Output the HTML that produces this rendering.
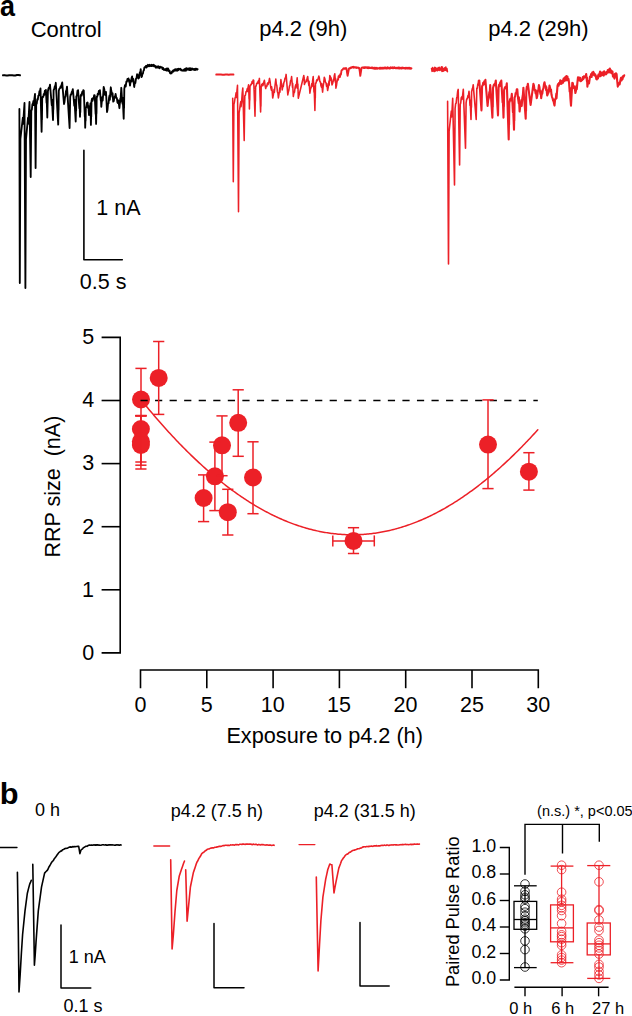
<!DOCTYPE html>
<html><head><meta charset="utf-8"><style>
html,body{margin:0;padding:0;background:#fff;width:632px;height:1016px;overflow:hidden;}
svg{display:block;}
text{font-family:"Liberation Sans",sans-serif;}
</style></head><body>
<svg width="632" height="1016" viewBox="0 0 632 1016">
<rect width="632" height="1016" fill="#fff"/>
<text transform="translate(0.85,16.20) scale(0.91,1)" x="-0.87" y="0" font-size="29.6" font-weight="bold" fill="#000">a</text>
<text x="30.68" y="37.30" font-size="22" font-weight="normal" fill="#000" >Control</text>
<text x="259.28" y="35.60" font-size="22" font-weight="normal" fill="#000" >p4.2 (9h)</text>
<text x="488.28" y="35.60" font-size="22" font-weight="normal" fill="#000" >p4.2 (29h)</text>
<polyline points="3.00,75.30 4.55,75.12 6.09,75.47 7.64,75.43 9.18,75.18 10.73,75.30 12.27,75.27 13.82,75.38 15.36,75.44 16.91,75.10 18.45,75.06 20.00,75.30" fill="none" stroke="#000" stroke-width="2.0" stroke-linejoin="round" stroke-linecap="round" />
<polyline points="19.40,109.00 19.80,283.00 20.40,139.00 22.82,117.76 23.11,123.76 24.50,103.00 25.40,288.00 26.00,139.20 28.02,117.74 28.26,123.74 29.50,102.00 30.70,177.00 31.30,110.60 31.83,109.75 32.37,104.27 32.90,103.80 33.44,101.01 33.70,105.06 34.35,99.10 35.00,94.00 35.60,168.00 36.20,104.32 36.74,103.72 37.28,99.08 37.81,99.53 38.35,95.65 38.89,95.47 39.42,91.28 39.96,91.45 40.50,88.40 41.60,131.80 41.92,114.22 41.96,119.69 42.20,98.36 42.73,96.64 43.26,96.84 43.79,93.95 44.31,94.83 44.84,90.80 45.37,92.73 45.90,90.00 46.54,102.66 46.64,96.66 47.30,117.50 47.90,91.26 48.53,88.26 49.17,87.30 49.32,88.44 50.00,84.70 51.75,105.25 51.96,99.64 53.00,120.00 53.31,104.81 53.35,109.41 53.60,90.24 54.22,89.05 54.83,86.07 54.99,88.13 55.80,82.80 58.20,124.60 58.57,104.00 58.61,110.00 58.80,90.84 59.44,88.59 60.08,88.03 60.72,86.08 60.96,87.70 61.58,84.69 62.20,82.40 64.00,104.00 64.50,102.02 65.00,97.47 65.50,96.11 66.00,90.94 66.50,90.49 67.00,86.60 69.60,128.00 70.20,96.96 70.72,94.37 71.24,94.48 71.76,91.95 72.28,91.49 72.80,89.20 73.54,96.90 74.27,105.59 74.47,99.59 75.70,121.50 76.08,105.44 76.13,110.69 76.30,96.46 76.90,95.35 77.50,90.69 78.10,90.20 78.76,100.55 79.41,108.54 79.54,102.54 80.00,116.80 80.30,106.31 80.34,112.29 80.60,95.92 81.13,94.50 81.67,95.64 82.20,91.97 82.73,93.70 83.27,90.09 83.80,90.70 84.77,116.42 84.87,110.42 85.20,127.70 85.56,115.46 85.61,120.83 85.80,107.54 86.40,107.16 87.00,102.85 87.60,102.50 88.26,108.40 88.36,105.90 89.00,115.00 89.70,110.02 90.40,103.50 90.90,124.90 91.21,112.83 91.25,116.72 91.50,101.30 92.03,98.74 92.57,100.88 93.10,97.82 93.63,98.65 94.17,95.15 94.70,95.40 95.61,113.90 95.71,108.87 96.10,123.90 96.44,108.75 96.48,113.57 96.70,96.94 97.23,96.73 97.77,93.69 98.30,94.52 98.83,90.94 99.37,92.28 99.90,90.20 100.76,100.34 100.85,97.56 101.30,106.80 101.90,100.41 102.51,96.79 102.68,100.58 103.19,94.51 103.70,86.90 104.35,89.50 105.00,95.00 105.50,94.97 106.00,92.00 106.50,101.09 107.00,112.00 107.51,109.73 108.02,103.87 108.53,103.30 109.04,97.79 109.55,95.42 109.82,99.91 110.80,87.30 111.33,91.07 111.86,92.89 112.39,96.79 112.56,93.27 113.20,101.60 113.76,101.05 114.32,97.53 114.87,96.30 115.04,97.68 115.60,94.00 116.21,97.77 116.82,97.90 117.43,102.34 118.04,103.13 118.31,100.30 118.86,103.53 119.40,108.20 120.29,98.65 120.42,101.98 121.30,87.80 121.91,97.24 122.53,103.58 122.69,97.58 123.70,118.70 124.04,101.89 124.08,107.89 124.30,88.86 124.92,85.42 125.55,84.43 125.69,86.52 126.40,81.40 126.93,81.64 127.45,78.97 127.97,80.38 128.50,78.50 129.23,81.97 129.34,79.94 130.00,85.60 130.53,82.23 131.05,81.72 131.57,78.11 132.10,76.40 132.62,80.01 133.14,81.67 133.29,78.91 134.20,87.00 134.78,82.92 135.36,83.00 135.94,78.90 136.52,78.13 137.10,74.20 137.80,75.10 138.50,78.50 139.00,77.85 139.51,73.67 140.01,72.11 140.17,74.73 140.70,69.20 141.40,77.00 141.90,76.54 142.40,73.88 142.90,73.62 143.40,70.84 143.90,70.39 144.40,67.43 144.90,67.10 145.41,67.24 145.93,65.96 146.44,67.56 146.96,65.82 147.47,66.54 147.99,64.81 148.50,65.70 149.04,66.35 149.57,64.77 150.11,65.97 150.65,65.11 151.19,66.11 151.73,64.81 152.26,66.02 152.80,65.70 153.33,64.72 153.85,66.31 154.38,65.28 154.90,66.66 155.43,66.09 155.95,67.77 156.47,66.53 157.00,67.10 157.54,67.52 158.07,66.20 158.61,67.71 159.15,66.82 159.69,68.29 160.23,66.71 160.76,67.37 161.30,67.10 161.88,67.11 162.46,69.09 163.04,67.89 163.62,69.77 164.20,70.00 164.72,69.34 165.25,70.07 165.78,69.03 166.30,70.58 166.82,68.55 167.35,70.51 167.88,68.33 168.40,69.20 168.95,71.34 169.50,70.43 170.05,73.12 170.60,73.50 171.10,72.54 171.60,73.37 172.10,71.46 172.60,71.84 173.10,70.33 173.60,71.58 174.10,70.00 174.62,69.56 175.14,70.66 175.65,69.16 176.17,70.44 176.69,69.26 177.21,70.72 177.73,69.00 178.25,70.24 178.76,68.70 179.28,69.53 179.80,69.20 180.38,68.72 180.96,70.17 181.54,69.81 182.12,70.67 182.70,70.70 183.24,70.12 183.77,70.66 184.31,69.29 184.85,70.68 185.39,68.58 185.93,70.71 186.46,68.19 187.00,69.20 187.51,69.66 188.02,68.53 188.53,69.68 189.04,68.39 189.55,70.04 190.05,68.19 190.56,70.12 191.07,68.71 191.58,69.85 192.09,68.45 192.60,69.20 193.10,69.44 193.60,68.93 194.10,69.83 194.60,68.85 195.10,70.13 195.60,68.73 196.10,69.54 196.60,68.79 197.10,69.66 197.60,69.20" fill="none" stroke="#000" stroke-width="1.85" stroke-linejoin="round" stroke-linecap="round" />
<polyline points="83.90,150.20 83.90,259.70 122.30,259.70" fill="none" stroke="#000" stroke-width="1.6" stroke-linejoin="round" stroke-linecap="round" stroke-linecap="butt" stroke-linejoin="miter"/>
<text x="96.36" y="214.80" font-size="21.5" font-weight="normal" fill="#000" >1 nA</text>
<text x="79.86" y="288.80" font-size="21.5" font-weight="normal" fill="#000" >0.5 s</text>
<polyline points="216.30,74.60 217.85,74.50 219.41,74.62 220.96,74.55 222.52,74.64 224.07,74.65 225.63,74.43 227.18,74.41 228.74,74.73 230.29,74.50 231.85,74.49 233.40,74.60" fill="none" stroke="#EC2027" stroke-width="2.0" stroke-linejoin="round" stroke-linecap="round" />
<polyline points="232.70,98.30 233.30,181.70 233.90,104.58 234.45,102.16 235.01,98.26 235.56,96.42 236.11,92.73 236.36,97.55 236.93,90.97 237.50,85.30 238.50,211.80 239.10,112.76 239.66,109.38 240.22,104.56 240.78,101.55 241.03,106.66 241.62,101.75 242.21,93.04 242.80,88.00 244.20,140.60 244.80,95.88 245.42,95.19 246.04,91.70 246.66,91.29 247.28,88.58 247.55,91.42 248.07,87.47 248.60,84.70 249.07,99.03 249.13,93.03 249.40,109.00 249.74,96.14 249.78,100.14 250.00,86.04 250.53,85.69 251.06,84.00 251.59,84.10 252.11,81.44 252.64,83.15 253.17,79.94 253.70,80.30 255.00,116.30 255.39,96.45 255.43,101.34 255.60,85.98 256.11,86.14 256.62,83.46 257.12,83.57 257.63,81.93 257.90,83.53 258.40,80.84 258.90,81.21 259.40,78.40 260.60,111.90 260.88,100.14 260.92,106.14 261.20,86.62 261.70,84.39 262.21,85.89 262.71,83.63 262.94,85.52 263.67,82.53 264.40,80.30 265.05,85.36 265.70,88.50 266.23,86.06 266.76,86.54 267.28,83.81 267.81,82.89 268.08,84.61 268.79,82.31 269.50,78.40 270.15,81.97 270.79,87.64 271.44,90.27 271.66,86.84 272.18,91.17 272.70,98.00 273.42,94.50 274.13,89.21 274.35,92.54 275.08,85.16 275.80,79.00 276.32,84.10 276.84,85.68 277.36,91.67 277.88,92.97 278.40,98.00 279.09,93.75 279.79,87.79 279.96,92.20 280.90,79.60 281.61,85.23 281.70,83.63 282.20,89.90 282.76,86.94 283.31,86.42 283.87,82.49 284.43,81.50 284.99,78.21 285.54,77.80 286.10,74.40 287.80,94.90 288.34,91.96 288.89,90.00 289.43,86.08 289.97,85.04 290.51,80.95 291.06,80.02 291.60,76.60 292.52,87.33 292.64,83.26 293.30,96.50 293.90,92.93 294.51,92.08 295.11,87.28 295.71,84.87 295.98,88.01 296.59,83.60 297.20,77.70 297.79,88.79 297.87,84.14 298.30,98.20 303.80,75.50 304.07,79.57 304.12,77.13 304.40,84.40 305.04,82.39 305.68,82.37 306.31,79.88 306.54,81.31 307.12,78.36 307.70,76.60 308.30,81.82 308.90,85.68 309.06,81.27 309.90,93.20 310.55,88.83 311.19,87.34 311.84,83.45 312.07,86.38 312.63,80.58 313.20,76.60 313.98,92.12 314.10,86.12 314.90,110.40 315.27,93.68 315.31,98.01 315.50,82.96 316.05,83.10 316.60,80.27 317.16,79.51 317.39,80.83 318.09,78.82 318.80,76.10 319.32,77.77 319.85,81.65 320.37,81.75 320.90,85.47 321.42,87.13 321.69,83.58 322.60,92.10 323.17,86.48 323.73,82.65 324.30,77.20 324.86,78.67 325.42,82.06 325.99,82.93 326.55,86.26 326.78,83.54 327.60,90.50 328.30,87.00 329.00,80.94 329.16,85.25 329.80,75.50 330.37,76.61 330.94,80.41 331.09,77.89 332.00,85.00 332.71,83.24 333.43,79.28 333.63,80.98 334.21,76.03 334.80,73.80 335.47,82.51 335.54,78.22 335.90,88.20 336.47,85.57 337.03,81.73 337.60,79.40 338.10,79.69" fill="none" stroke="#EC2027" stroke-width="1.55" stroke-linejoin="round" stroke-linecap="round" />
<polyline points="338.10,79.69 338.60,76.11 339.10,76.93 339.61,75.11 339.91,76.98 340.44,73.90 340.96,74.46 341.48,70.55 342.00,70.00 342.60,69.69 343.20,68.65 343.80,68.30 344.34,68.69 344.88,68.23 345.42,68.78 345.96,67.96 346.50,68.60 347.05,72.53 347.60,75.90 348.30,72.08 349.00,68.50 349.53,68.43 350.06,67.87 350.59,68.35 351.11,67.35 351.64,67.69 352.17,67.05 352.70,67.00 353.20,67.66 353.70,66.82 354.20,67.43 354.70,67.13 355.20,67.50 355.70,67.22 356.20,67.93 356.70,67.37 357.20,67.77 357.70,67.70 358.20,67.44 358.70,68.14 359.20,68.00 359.75,71.35 360.30,75.90 360.90,72.13 361.50,68.00 362.15,67.33 362.80,67.40 363.31,67.92 363.81,67.14 364.32,68.08 364.83,67.17 365.33,67.79 365.84,67.26 366.35,67.75 366.85,67.32 367.36,67.91 367.87,67.15 368.37,68.25 368.88,67.40 369.39,67.93 369.89,67.58 370.40,68.09 370.91,67.66 371.41,68.14 371.92,67.40 372.43,68.16 372.93,67.86 373.44,68.60 373.95,67.67 374.45,68.69 374.96,67.81 375.47,68.70 375.97,67.75 376.48,68.71 376.99,67.76 377.49,68.63 378.00,68.30 378.51,68.12 379.01,68.48 379.52,67.70 380.03,68.77 380.53,67.64 381.04,68.46 381.55,67.72 382.05,68.64 382.56,67.69 383.07,68.61 383.57,67.71 384.08,68.49 384.59,67.59 385.09,68.27 385.60,67.44 386.11,68.56 386.61,67.80 387.12,68.53 387.63,67.34 388.13,68.34 388.64,67.74 389.15,68.41 389.65,67.66 390.16,68.40 390.67,67.36 391.17,67.93 391.68,67.56 392.19,68.16 392.69,67.33 393.20,67.70 393.71,68.19 394.22,67.17 394.72,67.97 395.23,67.65 395.74,68.35 396.25,67.67 396.76,68.36 397.27,67.66 397.77,68.36 398.28,67.37 398.79,68.42 399.30,67.52 399.81,68.46 400.32,67.72 400.82,68.39 401.33,67.69 401.84,68.53 402.35,67.51 402.86,68.36 403.37,67.66 403.88,68.18 404.38,67.93 404.89,68.49 405.40,67.75 405.91,68.65 406.42,67.72 406.93,68.34 407.43,67.87 407.94,68.67 408.45,67.83 408.96,68.34 409.47,67.71 409.98,68.77 410.48,68.11 410.99,68.66 411.50,68.30" fill="none" stroke="#EC2027" stroke-width="1.9" stroke-linejoin="round" stroke-linecap="round" />
<polyline points="431.50,68.47 432.05,71.38 432.60,67.53 433.15,70.96 433.70,68.37 434.25,71.59 434.80,67.18 435.35,71.02 435.90,67.79 436.45,70.47 437.00,68.79 437.55,70.74 438.10,67.63 438.65,70.14 439.20,67.21 439.75,70.46 440.30,68.33 440.85,70.08 441.40,66.80 441.95,71.48 442.50,67.05 443.05,71.23 443.60,68.73 444.15,70.66 444.70,67.80 445.25,70.23 445.80,66.90 446.35,70.74 446.90,68.49 447.45,71.64" fill="none" stroke="#EC2027" stroke-width="1.5" stroke-linejoin="round" stroke-linecap="round" />
<polyline points="447.60,101.40 448.50,264.00 449.10,131.52 451.34,110.94 451.59,116.94 452.14,109.17 452.70,98.40 454.50,185.00 455.10,108.52 455.62,103.79 456.13,103.21 456.65,98.22 457.17,96.13 457.68,91.27 458.20,89.40 459.60,165.00 460.20,104.52 460.72,103.00 461.25,97.95 461.77,96.84 461.99,99.45 462.65,95.32 463.30,89.40 465.50,148.30 466.10,102.78 466.71,98.91 467.32,98.73 467.94,95.57 468.14,97.50 469.00,91.40 469.50,96.96 470.01,105.55 470.15,100.09 471.00,119.50 471.40,101.25 471.44,107.25 471.60,91.82 472.43,88.23 472.54,89.42 473.20,84.90 476.20,119.50 476.80,88.30 477.30,88.15 477.80,84.22 478.30,84.76" fill="none" stroke="#EC2027" stroke-width="1.6" stroke-linejoin="round" stroke-linecap="round" />
<polyline points="478.30,84.76 478.80,80.72 479.30,80.50 481.50,110.40 482.10,86.00 482.65,85.62 483.20,82.81 483.75,84.47 484.30,81.19 484.85,82.43 485.40,79.90 487.60,105.90 488.17,99.94 488.75,98.25 489.32,92.05 489.50,96.72 490.20,85.00 492.40,117.60 492.73,101.06 492.78,107.06 493.00,87.92 493.74,85.12 494.48,84.00 494.68,85.24 495.24,83.37 495.80,80.50 498.00,115.40 498.60,87.48 499.14,84.57 499.68,86.21 500.22,82.29 500.76,82.39 501.30,80.50 502.59,102.34 502.75,96.34 503.50,117.60 503.87,100.61 503.91,106.55 504.10,90.16 504.78,87.80 505.45,86.73 505.64,88.29 506.22,87.07 506.80,83.30 508.70,139.50 509.04,118.85 509.08,124.85 509.30,102.94 509.90,99.95 510.51,98.53 510.68,100.57 511.24,98.92 511.80,93.80 512.36,101.75 512.92,112.12 513.07,106.12 514.00,129.80 514.28,114.66 514.32,120.66 514.60,97.48 515.14,96.51 515.68,92.94 516.22,93.51 516.76,89.31 517.30,89.40 518.02,98.03 518.75,103.32 518.91,97.32 519.60,111.50 520.21,106.55 520.83,105.09 521.44,99.95 521.71,105.95 522.27,98.50 522.84,95.30 523.40,87.70 525.70,118.70 525.99,105.02 526.04,110.94 526.30,90.78 526.83,86.69 527.37,86.53 527.90,83.80 530.60,104.90 533.40,83.80 533.95,85.31 534.49,89.80 535.04,90.17 535.59,93.35 535.82,90.38 536.70,98.20 537.25,96.11 537.80,91.11 538.35,89.93 538.90,85.00 539.43,86.93 539.96,91.63 540.49,94.15 540.65,90.97 541.20,98.20 541.75,94.22 542.30,93.68 542.85,89.56 543.40,88.59 543.95,84.31 544.50,82.20 545.04,85.54 545.59,85.95 546.13,90.24 546.32,87.08 547.20,95.50 547.82,94.17 548.44,90.10 548.60,92.69 549.50,85.50 550.15,88.08 550.81,91.42 550.98,89.45 551.49,94.60 552.00,96.80 552.60,98.52 553.20,101.01 553.37,99.39 553.94,103.33 554.50,105.60 555.11,99.35 555.72,99.21 556.33,93.50 556.54,98.13 557.50,85.80 558.05,84.12 558.60,85.78 559.15,82.73 559.71,84.07 560.26,80.34 560.81,82.12 561.31,83.85 561.88,83.42 562.44,80.54 563.01,82.74 563.57,78.57 564.14,81.17 564.70,77.80 565.24,77.02 565.79,80.50 566.33,76.12 566.87,80.25 567.41,76.47 567.96,80.17 568.50,79.00 569.09,83.22 569.68,91.59 569.86,87.58 570.43,98.60 571.00,105.60 572.30,82.80 572.84,83.11 573.39,87.76 573.93,88.16 574.15,86.22 574.77,87.77 575.40,93.00 576.01,90.56 576.62,85.58 576.80,89.07 577.40,82.49 578.00,77.20 578.52,79.75 579.03,77.48 579.55,80.52 580.07,77.75 580.58,81.18 581.10,81.00 581.66,79.71 582.22,80.18 582.78,77.08 583.34,79.10 583.90,76.19 584.46,76.39 584.82,77.45 585.51,77.07 586.20,74.00 586.89,81.23 586.97,77.51 587.40,86.60 588.14,81.47 588.88,80.86 589.06,83.39 590.00,76.50 590.54,76.93 591.09,74.15 591.63,77.04 592.17,72.67 592.71,74.78 593.26,71.85 593.80,72.70 594.37,75.54 594.94,75.58 595.12,74.17 595.71,75.83 596.30,79.00 596.83,79.37 597.37,76.27 597.90,78.53 598.43,74.57 598.97,76.58 599.50,74.00 600.02,71.60 600.54,76.14 601.05,72.63 601.57,75.42 602.09,72.63 602.61,74.92 603.13,72.20 603.65,75.57 604.16,71.23 604.68,74.49 605.20,73.40 605.72,72.62 606.24,74.16 606.75,71.94 607.27,72.77 607.79,69.98 608.31,72.35 608.83,69.50 609.35,72.25 609.86,68.50 610.38,72.61 610.90,70.20 611.42,70.77 611.93,73.38 612.45,71.40 612.97,76.52 613.48,74.74 614.00,77.20 614.52,78.54 615.04,73.88 615.56,76.70 616.08,73.26 616.60,74.00 617.20,80.97 617.80,86.60 618.34,84.12 618.88,84.75 619.41,82.69 619.60,84.44 620.40,80.30 620.94,77.90 621.49,80.52 622.03,77.40 622.57,79.13 623.11,76.06 623.66,76.70 624.20,75.30" fill="none" stroke="#EC2027" stroke-width="2.1" stroke-linejoin="round" stroke-linecap="round" />
<path d="M101.6,337.40 H120.2 V652.90 H101.6" fill="none" stroke="#000" stroke-width="1.6"/>
<line x1="101.60" y1="589.80" x2="120.20" y2="589.80" stroke="#000" stroke-width="1.6" />
<line x1="101.60" y1="526.70" x2="120.20" y2="526.70" stroke="#000" stroke-width="1.6" />
<line x1="101.60" y1="463.60" x2="120.20" y2="463.60" stroke="#000" stroke-width="1.6" />
<line x1="101.60" y1="400.50" x2="120.20" y2="400.50" stroke="#000" stroke-width="1.6" />
<text x="82.22" y="659.70" font-size="21.5" font-weight="normal" fill="#000" >0</text>
<text x="81.93" y="596.60" font-size="21.5" font-weight="normal" fill="#000" >1</text>
<text x="82.22" y="533.50" font-size="21.5" font-weight="normal" fill="#000" >2</text>
<text x="82.28" y="470.40" font-size="21.5" font-weight="normal" fill="#000" >3</text>
<text x="82.29" y="407.30" font-size="21.5" font-weight="normal" fill="#000" >4</text>
<text x="82.24" y="344.20" font-size="21.5" font-weight="normal" fill="#000" >5</text>
<text transform="rotate(-90)" x="-557.46" y="59.60" font-size="21.5" fill="#000" style="white-space:pre">RRP size  (nA)</text>
<path d="M140.50,688.2 V670 H538.30 V688.2" fill="none" stroke="#000" stroke-width="1.6"/>
<line x1="206.80" y1="670.00" x2="206.80" y2="688.20" stroke="#000" stroke-width="1.6" />
<line x1="273.10" y1="670.00" x2="273.10" y2="688.20" stroke="#000" stroke-width="1.6" />
<line x1="339.40" y1="670.00" x2="339.40" y2="688.20" stroke="#000" stroke-width="1.6" />
<line x1="405.70" y1="670.00" x2="405.70" y2="688.20" stroke="#000" stroke-width="1.6" />
<line x1="472.00" y1="670.00" x2="472.00" y2="688.20" stroke="#000" stroke-width="1.6" />
<text x="134.52" y="712.00" font-size="21.5" font-weight="normal" fill="#000" >0</text>
<text x="200.84" y="712.00" font-size="21.5" font-weight="normal" fill="#000" >5</text>
<text x="260.74" y="712.00" font-size="21.5" font-weight="normal" fill="#000" >10</text>
<text x="327.08" y="712.00" font-size="21.5" font-weight="normal" fill="#000" >15</text>
<text x="393.62" y="712.00" font-size="21.5" font-weight="normal" fill="#000" >20</text>
<text x="459.95" y="712.00" font-size="21.5" font-weight="normal" fill="#000" >25</text>
<text x="526.35" y="712.00" font-size="21.5" font-weight="normal" fill="#000" >30</text>
<text x="226.42" y="743.40" font-size="21.7" font-weight="normal" fill="#000" >Exposure to p4.2 (h)</text>
<polyline points="141.00,399.75 142.32,401.38 143.65,403.01 144.97,404.63 146.29,406.23 147.61,407.83 148.94,409.42 150.26,411.00 151.58,412.57 152.90,414.13 154.23,415.69 155.55,417.23 156.87,418.76 158.19,420.29 159.52,421.80 160.84,423.31 162.16,424.81 163.49,426.29 164.81,427.77 166.13,429.24 167.45,430.70 168.78,432.15 170.10,433.59 171.42,435.02 172.74,436.44 174.07,437.86 175.39,439.26 176.71,440.65 178.03,442.03 179.36,443.41 180.68,444.77 182.00,446.13 183.33,447.47 184.65,448.81 185.97,450.13 187.29,451.45 188.62,452.75 189.94,454.05 191.26,455.34 192.58,456.61 193.91,457.88 195.23,459.14 196.55,460.38 197.87,461.62 199.20,462.85 200.52,464.07 201.84,465.27 203.17,466.47 204.49,467.66 205.81,468.84 207.13,470.01 208.46,471.16 209.78,472.31 211.10,473.45 212.42,474.58 213.75,475.69 215.07,476.80 216.39,477.90 217.71,478.99 219.04,480.07 220.36,481.13 221.68,482.19 223.01,483.24 224.33,484.27 225.65,485.30 226.97,486.32 228.30,487.32 229.62,488.32 230.94,489.30 232.26,490.28 233.59,491.25 234.91,492.20 236.23,493.14 237.55,494.08 238.88,495.00 240.20,495.92 241.52,496.82 242.85,497.71 244.17,498.60 245.49,499.47 246.81,500.33 248.14,501.18 249.46,502.02 250.78,502.85 252.10,503.67 253.43,504.48 254.75,505.28 256.07,506.07 257.39,506.85 258.72,507.62 260.04,508.37 261.36,509.12 262.69,509.86 264.01,510.58 265.33,511.30 266.65,512.00 267.98,512.69 269.30,513.38 270.62,514.05 271.94,514.71 273.27,515.36 274.59,516.00 275.91,516.63 277.23,517.25 278.56,517.86 279.88,518.46 281.20,519.05 282.53,519.63 283.85,520.19 285.17,520.75 286.49,521.29 287.82,521.83 289.14,522.35 290.46,522.86 291.78,523.37 293.11,523.86 294.43,524.34 295.75,524.81 297.07,525.27 298.40,525.71 299.72,526.15 301.04,526.58 302.37,526.99 303.69,527.40 305.01,527.79 306.33,528.18 307.66,528.55 308.98,528.91 310.30,529.26 311.62,529.60 312.95,529.93 314.27,530.25 315.59,530.56 316.91,530.86 318.24,531.14 319.56,531.42 320.88,531.68 322.21,531.94 323.53,532.18 324.85,532.41 326.17,532.63 327.50,532.84 328.82,533.04 330.14,533.23 331.46,533.41 332.79,533.57 334.11,533.73 335.43,533.87 336.75,534.01 338.08,534.13 339.40,534.24 340.72,534.34 342.05,534.44 343.37,534.51 344.69,534.58 346.01,534.64 347.34,534.69 348.66,534.72 349.98,534.75 351.30,534.76 352.63,534.77 353.95,534.76 355.27,534.74 356.59,534.71 357.92,534.67 359.24,534.62 360.56,534.56 361.89,534.48 363.21,534.40 364.53,534.31 365.85,534.20 367.18,534.08 368.50,533.96 369.82,533.82 371.14,533.67 372.47,533.51 373.79,533.34 375.11,533.15 376.43,532.96 377.76,532.76 379.08,532.54 380.40,532.32 381.73,532.08 383.05,531.83 384.37,531.57 385.69,531.31 387.02,531.03 388.34,530.74 389.66,530.43 390.98,530.12 392.31,529.80 393.63,529.46 394.95,529.12 396.27,528.76 397.60,528.40 398.92,528.02 400.24,527.63 401.57,527.23 402.89,526.82 404.21,526.40 405.53,525.97 406.86,525.53 408.18,525.07 409.50,524.61 410.82,524.13 412.15,523.65 413.47,523.15 414.79,522.64 416.11,522.13 417.44,521.60 418.76,521.06 420.08,520.51 421.41,519.95 422.73,519.38 424.05,518.79 425.37,518.20 426.70,517.60 428.02,516.98 429.34,516.36 430.66,515.72 431.99,515.08 433.31,514.42 434.63,513.75 435.95,513.07 437.28,512.38 438.60,511.68 439.92,510.97 441.25,510.25 442.57,509.52 443.89,508.78 445.21,508.03 446.54,507.26 447.86,506.49 449.18,505.70 450.50,504.91 451.83,504.10 453.15,503.29 454.47,502.46 455.79,501.62 457.12,500.78 458.44,499.92 459.76,499.05 461.09,498.17 462.41,497.28 463.73,496.38 465.05,495.47 466.38,494.55 467.70,493.62 469.02,492.68 470.34,491.73 471.67,490.77 472.99,489.79 474.31,488.81 475.63,487.82 476.96,486.81 478.28,485.80 479.60,484.78 480.93,483.74 482.25,482.70 483.57,481.64 484.89,480.58 486.22,479.50 487.54,478.42 488.86,477.32 490.18,476.22 491.51,475.10 492.83,473.97 494.15,472.84 495.47,471.69 496.80,470.54 498.12,469.37 499.44,468.19 500.77,467.01 502.09,465.81 503.41,464.60 504.73,463.39 506.06,462.16 507.38,460.92 508.70,459.68 510.02,458.42 511.35,457.15 512.67,455.88 513.99,454.59 515.31,453.30 516.64,451.99 517.96,450.67 519.28,449.35 520.61,448.01 521.93,446.67 523.25,445.31 524.57,443.95 525.90,442.57 527.22,441.19 528.54,439.80 529.86,438.39 531.19,436.98 532.51,435.56 533.83,434.12 535.15,432.68 536.48,431.23 537.80,429.77" fill="none" stroke="#EC2027" stroke-width="1.5" stroke-linejoin="round" stroke-linecap="round" />
<circle cx="141.0" cy="399.5" r="9" fill="#EC2027"/>
<circle cx="158.7" cy="377.9" r="9" fill="#EC2027"/>
<circle cx="140.9" cy="429.0" r="9" fill="#EC2027"/>
<circle cx="140.9" cy="441.5" r="9" fill="#EC2027"/>
<circle cx="140.9" cy="445.0" r="9" fill="#EC2027"/>
<circle cx="238.2" cy="422.8" r="9" fill="#EC2027"/>
<circle cx="222.0" cy="445.3" r="9" fill="#EC2027"/>
<circle cx="214.9" cy="476.3" r="9" fill="#EC2027"/>
<circle cx="203.6" cy="498.0" r="9" fill="#EC2027"/>
<circle cx="227.8" cy="512.2" r="9" fill="#EC2027"/>
<circle cx="253.0" cy="477.5" r="9" fill="#EC2027"/>
<circle cx="353.5" cy="540.9" r="9" fill="#EC2027"/>
<circle cx="488.0" cy="444.6" r="9" fill="#EC2027"/>
<circle cx="528.9" cy="471.7" r="9" fill="#EC2027"/>
<line x1="140.50" y1="400.50" x2="537.80" y2="400.50" stroke="#000" stroke-width="1.6" stroke-dasharray="7.2 7.35"/>
<line x1="141.00" y1="368.40" x2="141.00" y2="391.50" stroke="#EC2027" stroke-width="1.5" />
<line x1="141.00" y1="407.50" x2="141.00" y2="415.50" stroke="#EC2027" stroke-width="1.5" />
<line x1="135.40" y1="368.40" x2="146.60" y2="368.40" stroke="#EC2027" stroke-width="1.5" />
<line x1="135.40" y1="415.50" x2="146.60" y2="415.50" stroke="#EC2027" stroke-width="1.5" />
<line x1="158.70" y1="341.50" x2="158.70" y2="369.90" stroke="#EC2027" stroke-width="1.5" />
<line x1="158.70" y1="385.90" x2="158.70" y2="414.40" stroke="#EC2027" stroke-width="1.5" />
<line x1="153.10" y1="341.50" x2="164.30" y2="341.50" stroke="#EC2027" stroke-width="1.5" />
<line x1="153.10" y1="414.40" x2="164.30" y2="414.40" stroke="#EC2027" stroke-width="1.5" />
<line x1="140.90" y1="415.80" x2="140.90" y2="421.00" stroke="#EC2027" stroke-width="1.5" />
<line x1="140.90" y1="437.00" x2="140.90" y2="462.00" stroke="#EC2027" stroke-width="1.5" />
<line x1="135.30" y1="415.80" x2="146.50" y2="415.80" stroke="#EC2027" stroke-width="1.5" />
<line x1="135.30" y1="462.00" x2="146.50" y2="462.00" stroke="#EC2027" stroke-width="1.5" />
<line x1="140.90" y1="415.80" x2="140.90" y2="433.50" stroke="#EC2027" stroke-width="1.5" />
<line x1="140.90" y1="449.50" x2="140.90" y2="465.20" stroke="#EC2027" stroke-width="1.5" />
<line x1="135.30" y1="415.80" x2="146.50" y2="415.80" stroke="#EC2027" stroke-width="1.5" />
<line x1="135.30" y1="465.20" x2="146.50" y2="465.20" stroke="#EC2027" stroke-width="1.5" />
<line x1="140.90" y1="415.80" x2="140.90" y2="437.00" stroke="#EC2027" stroke-width="1.5" />
<line x1="140.90" y1="453.00" x2="140.90" y2="469.00" stroke="#EC2027" stroke-width="1.5" />
<line x1="135.30" y1="415.80" x2="146.50" y2="415.80" stroke="#EC2027" stroke-width="1.5" />
<line x1="135.30" y1="469.00" x2="146.50" y2="469.00" stroke="#EC2027" stroke-width="1.5" />
<line x1="238.20" y1="389.80" x2="238.20" y2="414.80" stroke="#EC2027" stroke-width="1.5" />
<line x1="238.20" y1="430.80" x2="238.20" y2="456.30" stroke="#EC2027" stroke-width="1.5" />
<line x1="232.60" y1="389.80" x2="243.80" y2="389.80" stroke="#EC2027" stroke-width="1.5" />
<line x1="232.60" y1="456.30" x2="243.80" y2="456.30" stroke="#EC2027" stroke-width="1.5" />
<line x1="222.00" y1="415.90" x2="222.00" y2="437.30" stroke="#EC2027" stroke-width="1.5" />
<line x1="222.00" y1="453.30" x2="222.00" y2="475.70" stroke="#EC2027" stroke-width="1.5" />
<line x1="216.40" y1="415.90" x2="227.60" y2="415.90" stroke="#EC2027" stroke-width="1.5" />
<line x1="216.40" y1="475.70" x2="227.60" y2="475.70" stroke="#EC2027" stroke-width="1.5" />
<line x1="214.90" y1="442.10" x2="214.90" y2="468.30" stroke="#EC2027" stroke-width="1.5" />
<line x1="214.90" y1="484.30" x2="214.90" y2="510.60" stroke="#EC2027" stroke-width="1.5" />
<line x1="209.30" y1="442.10" x2="220.50" y2="442.10" stroke="#EC2027" stroke-width="1.5" />
<line x1="209.30" y1="510.60" x2="220.50" y2="510.60" stroke="#EC2027" stroke-width="1.5" />
<line x1="203.60" y1="474.90" x2="203.60" y2="490.00" stroke="#EC2027" stroke-width="1.5" />
<line x1="203.60" y1="506.00" x2="203.60" y2="521.60" stroke="#EC2027" stroke-width="1.5" />
<line x1="198.00" y1="474.90" x2="209.20" y2="474.90" stroke="#EC2027" stroke-width="1.5" />
<line x1="198.00" y1="521.60" x2="209.20" y2="521.60" stroke="#EC2027" stroke-width="1.5" />
<line x1="227.80" y1="489.30" x2="227.80" y2="504.20" stroke="#EC2027" stroke-width="1.5" />
<line x1="227.80" y1="520.20" x2="227.80" y2="535.00" stroke="#EC2027" stroke-width="1.5" />
<line x1="222.20" y1="489.30" x2="233.40" y2="489.30" stroke="#EC2027" stroke-width="1.5" />
<line x1="222.20" y1="535.00" x2="233.40" y2="535.00" stroke="#EC2027" stroke-width="1.5" />
<line x1="253.00" y1="441.80" x2="253.00" y2="469.50" stroke="#EC2027" stroke-width="1.5" />
<line x1="253.00" y1="485.50" x2="253.00" y2="513.70" stroke="#EC2027" stroke-width="1.5" />
<line x1="247.40" y1="441.80" x2="258.60" y2="441.80" stroke="#EC2027" stroke-width="1.5" />
<line x1="247.40" y1="513.70" x2="258.60" y2="513.70" stroke="#EC2027" stroke-width="1.5" />
<line x1="353.50" y1="527.70" x2="353.50" y2="532.90" stroke="#EC2027" stroke-width="1.5" />
<line x1="353.50" y1="548.90" x2="353.50" y2="553.50" stroke="#EC2027" stroke-width="1.5" />
<line x1="347.90" y1="527.70" x2="359.10" y2="527.70" stroke="#EC2027" stroke-width="1.5" />
<line x1="347.90" y1="553.50" x2="359.10" y2="553.50" stroke="#EC2027" stroke-width="1.5" />
<line x1="332.80" y1="540.90" x2="374.30" y2="540.90" stroke="#EC2027" stroke-width="1.5" />
<line x1="332.80" y1="535.40" x2="332.80" y2="546.40" stroke="#EC2027" stroke-width="1.5" />
<line x1="374.30" y1="535.40" x2="374.30" y2="546.40" stroke="#EC2027" stroke-width="1.5" />
<line x1="488.00" y1="399.90" x2="488.00" y2="436.60" stroke="#EC2027" stroke-width="1.5" />
<line x1="488.00" y1="452.60" x2="488.00" y2="488.60" stroke="#EC2027" stroke-width="1.5" />
<line x1="482.40" y1="399.90" x2="493.60" y2="399.90" stroke="#EC2027" stroke-width="1.5" />
<line x1="482.40" y1="488.60" x2="493.60" y2="488.60" stroke="#EC2027" stroke-width="1.5" />
<line x1="528.90" y1="452.70" x2="528.90" y2="463.70" stroke="#EC2027" stroke-width="1.5" />
<line x1="528.90" y1="479.70" x2="528.90" y2="490.10" stroke="#EC2027" stroke-width="1.5" />
<line x1="523.30" y1="452.70" x2="534.50" y2="452.70" stroke="#EC2027" stroke-width="1.5" />
<line x1="523.30" y1="490.10" x2="534.50" y2="490.10" stroke="#EC2027" stroke-width="1.5" />
<text transform="translate(1.70,803.80) scale(1.065,1)" x="-1.91" y="0" font-size="28.9" font-weight="bold" fill="#000">b</text>
<text x="35.00" y="816.30" font-size="18" font-weight="normal" fill="#000" >0 h</text>
<text x="170.84" y="817.30" font-size="18" font-weight="normal" fill="#000" >p4.2 (7.5 h)</text>
<text x="313.74" y="817.30" font-size="18" font-weight="normal" fill="#000" >p4.2 (31.5 h)</text>
<polyline points="0.00,847.50 17.00,847.50" fill="none" stroke="#000" stroke-width="1.3" stroke-linejoin="round" stroke-linecap="round" />
<polyline points="17.40,872.30 18.30,930.00 19.00,992.00 20.20,973.90 21.40,953.00 22.60,934.50 25.00,910.90 27.30,893.50 28.50,888.64 29.70,884.10 30.50,882.43 31.30,880.20" fill="none" stroke="#000" stroke-width="1.6" stroke-linejoin="round" stroke-linecap="round" />
<polyline points="32.80,864.40 33.60,915.00 34.40,965.20 35.20,955.00 36.00,942.40 38.30,910.90 41.50,887.20 44.60,873.10 45.80,871.74 47.00,870.70 47.98,869.20 48.95,866.93 49.92,865.50 50.90,863.60 51.70,862.25 52.50,861.25 53.30,860.60 54.10,859.03 54.90,858.10 55.88,856.81 56.85,855.33 57.82,853.95 58.80,852.60 59.74,851.96 60.68,851.14 61.62,850.88 62.56,849.79 63.50,849.40 64.31,848.95 65.12,848.54 65.94,848.40 66.75,848.19 67.56,848.20 68.38,847.60 69.19,847.16 70.00,847.10 70.87,846.88 71.74,847.23 72.61,846.60 73.48,846.85 74.35,846.63 75.22,846.72 76.09,846.44 76.96,846.57 77.83,846.38 78.70,846.30 79.90,853.60 81.00,850.00 81.87,849.26 82.73,848.57 83.60,847.50 84.46,847.19 85.31,846.57 86.17,846.17 87.03,846.34 87.89,845.71 88.74,845.17 89.60,845.00 90.41,845.27 91.22,845.05 92.02,845.14 92.83,845.23 93.64,844.87 94.45,844.91 95.25,845.23 96.06,844.78 96.87,845.16 97.68,844.76 98.48,845.11 99.29,845.12 100.10,845.27 100.91,845.21 101.72,845.00 102.52,844.82 103.33,844.79 104.14,845.02 104.95,845.01 105.75,844.74 106.56,845.24 107.37,845.00 108.18,845.12 108.98,844.83 109.79,844.85 110.60,844.71 111.41,844.91 112.22,844.86 113.02,844.95 113.83,844.93 114.64,845.20 115.45,845.23 116.25,844.81 117.06,844.94 117.87,844.80 118.68,845.10 119.48,845.28 120.29,844.82 121.10,845.00" fill="none" stroke="#000" stroke-width="1.6" stroke-linejoin="round" stroke-linecap="round" />
<polyline points="61.00,925.00 61.00,988.00 90.80,988.00" fill="none" stroke="#000" stroke-width="1.5" stroke-linejoin="round" stroke-linecap="round" stroke-linecap="butt" stroke-linejoin="miter"/>
<text x="68.83" y="963.30" font-size="18" font-weight="normal" fill="#000" >1 nA</text>
<text x="63.50" y="1011.50" font-size="18" font-weight="normal" fill="#000" >0.1 s</text>
<polyline points="153.80,846.00 169.70,846.00" fill="none" stroke="#EC2027" stroke-width="1.3" stroke-linejoin="round" stroke-linecap="round" />
<polyline points="170.70,859.80 171.40,905.00 172.10,949.00 173.30,935.40 175.00,911.80 176.80,890.50 179.20,876.30 180.35,872.78 181.50,869.30 182.50,866.46 183.50,863.55 184.50,861.00" fill="none" stroke="#EC2027" stroke-width="1.6" stroke-linejoin="round" stroke-linecap="round" />
<polyline points="185.70,869.80 186.40,895.00 187.10,921.20 188.60,905.90 190.40,887.00 193.30,872.80 194.20,870.13 195.10,867.42 196.00,864.63 196.90,862.20 197.84,860.76 198.78,858.58 199.72,857.22 200.66,855.80 201.60,853.90 202.44,852.98 203.29,852.59 204.13,851.96 204.97,850.94 205.81,850.47 206.66,849.99 207.50,849.20 208.39,848.95 209.28,848.89 210.16,848.32 211.05,848.14 211.94,847.84 212.82,847.85 213.71,847.88 214.60,847.40 215.45,847.29 216.31,847.24 217.16,846.84 218.02,846.89 218.87,846.34 219.73,846.29 220.58,846.36 221.44,846.23 222.29,845.88 223.15,845.52 224.00,845.60 224.81,845.41 225.63,845.32 226.44,845.31 227.26,845.57 228.07,845.15 228.89,845.51 229.70,845.45 230.51,844.90 231.33,845.05 232.14,845.06 232.96,844.72 233.77,844.91 234.59,845.15 235.40,844.62 236.21,844.85 237.03,844.52 237.84,844.74 238.66,844.87 239.47,844.40 240.29,844.23 241.10,844.23 241.91,844.45 242.73,844.08 243.54,844.07 244.36,844.26 245.17,844.46 245.99,844.11 246.80,844.10 247.60,844.07 248.41,844.25 249.21,843.96 250.01,844.29 250.81,844.08 251.62,844.38 252.42,844.62 253.22,844.11 254.03,844.45 254.83,844.52 255.63,844.28 256.44,844.38 257.24,844.86 258.04,844.89 258.84,844.40 259.65,844.79 260.45,844.97 261.25,844.58 262.06,844.84 262.86,844.53 263.66,844.76 264.46,844.98 265.27,844.97 266.07,845.11 266.87,844.73 267.68,844.93 268.48,845.27 269.28,845.14 270.09,845.09 270.89,845.10 271.69,845.49 272.49,845.27 273.30,844.98 274.10,845.30" fill="none" stroke="#EC2027" stroke-width="1.6" stroke-linejoin="round" stroke-linecap="round" />
<polyline points="214.00,923.60 214.00,987.70 244.00,987.70" fill="none" stroke="#000" stroke-width="1.5" stroke-linejoin="round" stroke-linecap="round" stroke-linecap="butt" stroke-linejoin="miter"/>
<polyline points="299.00,844.60 314.90,844.60" fill="none" stroke="#EC2027" stroke-width="1.3" stroke-linejoin="round" stroke-linecap="round" />
<polyline points="316.30,877.10 317.20,925.00 318.10,970.90 319.50,945.30 320.90,920.50 322.90,897.10 325.70,879.10 326.75,874.34 327.80,869.50 328.80,866.71 329.80,864.00 330.85,864.40 331.90,864.70 334.00,892.90 335.00,887.22 336.00,881.90 338.80,868.10 339.73,865.75 340.67,863.23 341.60,860.50 342.42,859.49 343.24,858.10 344.06,857.21 344.88,856.00 345.70,855.00 346.59,854.26 347.47,854.10 348.36,853.54 349.24,852.38 350.13,852.29 351.01,851.55 351.90,850.90 352.73,850.55 353.56,850.21 354.39,850.16 355.22,849.75 356.05,849.61 356.88,849.32 357.71,848.72 358.54,848.82 359.37,848.67 360.20,848.10 361.00,848.15 361.80,847.70 362.60,847.13 363.40,846.87 364.20,846.71 365.00,846.70 365.80,846.91 366.60,846.47 367.40,846.45 368.20,846.71 369.00,846.31 369.80,846.39 370.60,846.27 371.40,845.99 372.20,846.25 373.00,846.35 373.80,845.88 374.60,845.86 375.40,845.92 376.20,845.64 377.00,845.86 377.80,845.99 378.60,845.84 379.40,845.71 380.20,845.85 381.00,845.37 381.80,845.56 382.60,845.39 383.40,845.47 384.20,845.12 385.00,845.30 385.82,845.44 386.64,845.00 387.46,845.01 388.28,845.37 389.10,845.43 389.91,845.09 390.73,845.05 391.55,844.92 392.37,844.91 393.19,845.08 394.01,844.79 394.83,844.73 395.65,844.90 396.47,844.70 397.29,844.96 398.10,845.04 398.92,844.98 399.74,844.77 400.56,844.67 401.38,844.69 402.20,844.40 403.02,844.80 403.84,844.54 404.66,844.51 405.48,844.33 406.30,844.53 407.11,844.58 407.93,844.43 408.75,844.69 409.57,844.55 410.39,844.26 411.21,844.40 412.03,844.60 412.85,844.34 413.67,844.36 414.49,844.01 415.30,844.24 416.12,844.19 416.94,844.13 417.76,844.11 418.58,844.18 419.40,844.10" fill="none" stroke="#EC2027" stroke-width="1.6" stroke-linejoin="round" stroke-linecap="round" />
<polyline points="360.00,922.40 360.00,986.00 389.20,986.00" fill="none" stroke="#000" stroke-width="1.5" stroke-linejoin="round" stroke-linecap="round" stroke-linecap="butt" stroke-linejoin="miter"/>
<path d="M499.8,847.50 H509.3 V980.00 H499.8" fill="none" stroke="#000" stroke-width="1.4"/>
<line x1="499.80" y1="953.50" x2="509.30" y2="953.50" stroke="#000" stroke-width="1.4" />
<line x1="499.80" y1="927.00" x2="509.30" y2="927.00" stroke="#000" stroke-width="1.4" />
<line x1="499.80" y1="900.50" x2="509.30" y2="900.50" stroke="#000" stroke-width="1.4" />
<line x1="499.80" y1="874.00" x2="509.30" y2="874.00" stroke="#000" stroke-width="1.4" />
<text x="471.40" y="984.00" font-size="17.8" font-weight="normal" fill="#000" >0.0</text>
<text x="471.40" y="957.50" font-size="17.8" font-weight="normal" fill="#000" >0.2</text>
<text x="471.40" y="931.00" font-size="17.8" font-weight="normal" fill="#000" >0.4</text>
<text x="471.40" y="904.50" font-size="17.8" font-weight="normal" fill="#000" >0.6</text>
<text x="471.40" y="878.00" font-size="17.8" font-weight="normal" fill="#000" >0.8</text>
<text x="471.54" y="851.50" font-size="17.8" font-weight="normal" fill="#000" >1.0</text>
<text transform="rotate(-90)" x="-987.09" y="459.20" font-size="18.2" fill="#000" style="white-space:pre">Paired Pulse Ratio</text>
<path d="M514.4,987.2 H608.6" fill="none" stroke="#000" stroke-width="1.4"/>
<line x1="525.00" y1="987.20" x2="525.00" y2="996.30" stroke="#000" stroke-width="1.4" />
<line x1="562.10" y1="987.20" x2="562.10" y2="996.30" stroke="#000" stroke-width="1.4" />
<line x1="598.60" y1="987.20" x2="598.60" y2="996.30" stroke="#000" stroke-width="1.4" />
<text x="509.36" y="1014.30" font-size="16.5" font-weight="normal" fill="#000" >0 h</text>
<text x="551.36" y="1014.30" font-size="16.5" font-weight="normal" fill="#000" >6 h</text>
<text x="592.07" y="1014.30" font-size="16.5" font-weight="normal" fill="#000" >27 h</text>
<path d="M525,874.7 V824.4 H599.3 V841.7 M562.5,824.4 V853.4" fill="none" stroke="#000" stroke-width="1.4"/>
<text x="537.10" y="815.60" font-size="14.5" font-weight="normal" fill="#000" >(n.s.) *, p&lt;0.05</text>
<line x1="525.00" y1="885.80" x2="525.00" y2="901.40" stroke="#000" stroke-width="1.3" />
<line x1="525.00" y1="929.30" x2="525.00" y2="967.60" stroke="#000" stroke-width="1.3" />
<line x1="514.00" y1="885.80" x2="536.70" y2="885.80" stroke="#000" stroke-width="1.3" />
<line x1="514.00" y1="967.60" x2="536.70" y2="967.60" stroke="#000" stroke-width="1.3" />
<rect x="514.0" y="901.4" width="22.700000000000045" height="27.899999999999977" fill="none" stroke="#000" stroke-width="1.3"/>
<line x1="514.00" y1="919.50" x2="536.70" y2="919.50" stroke="#000" stroke-width="1.3" />
<circle cx="525.0" cy="884" r="4.3" fill="none" stroke="#000" stroke-width="0.8"/>
<circle cx="525.0" cy="891.3" r="4.3" fill="none" stroke="#000" stroke-width="0.8"/>
<circle cx="525.0" cy="894.8" r="4.3" fill="none" stroke="#000" stroke-width="0.8"/>
<circle cx="525.0" cy="897.4" r="4.3" fill="none" stroke="#000" stroke-width="0.8"/>
<circle cx="525.0" cy="899.2" r="4.3" fill="none" stroke="#000" stroke-width="0.8"/>
<circle cx="525.0" cy="906.1" r="4.3" fill="none" stroke="#000" stroke-width="0.8"/>
<circle cx="525.0" cy="908.7" r="4.3" fill="none" stroke="#000" stroke-width="0.8"/>
<circle cx="525.0" cy="912.2" r="4.3" fill="none" stroke="#000" stroke-width="0.8"/>
<circle cx="525.0" cy="915.7" r="4.3" fill="none" stroke="#000" stroke-width="0.8"/>
<circle cx="525.0" cy="919.2" r="4.3" fill="none" stroke="#000" stroke-width="0.8"/>
<circle cx="525.0" cy="920.9" r="4.3" fill="none" stroke="#000" stroke-width="0.8"/>
<circle cx="525.0" cy="922.7" r="4.3" fill="none" stroke="#000" stroke-width="0.8"/>
<circle cx="525.0" cy="924.4" r="4.3" fill="none" stroke="#000" stroke-width="0.8"/>
<circle cx="525.0" cy="926.1" r="4.3" fill="none" stroke="#000" stroke-width="0.8"/>
<circle cx="525.0" cy="928.8" r="4.3" fill="none" stroke="#000" stroke-width="0.8"/>
<circle cx="525.0" cy="940.9" r="4.3" fill="none" stroke="#000" stroke-width="0.8"/>
<circle cx="525.0" cy="949.6" r="4.3" fill="none" stroke="#000" stroke-width="0.8"/>
<circle cx="525.0" cy="967" r="4.3" fill="none" stroke="#000" stroke-width="0.8"/>
<line x1="561.60" y1="866.10" x2="561.60" y2="904.90" stroke="#EC2027" stroke-width="1.3" />
<line x1="561.60" y1="941.80" x2="561.60" y2="962.70" stroke="#EC2027" stroke-width="1.3" />
<line x1="550.60" y1="866.10" x2="573.40" y2="866.10" stroke="#EC2027" stroke-width="1.3" />
<line x1="550.60" y1="962.70" x2="573.40" y2="962.70" stroke="#EC2027" stroke-width="1.3" />
<rect x="550.6" y="904.9" width="22.799999999999955" height="36.89999999999998" fill="none" stroke="#EC2027" stroke-width="1.3"/>
<line x1="550.60" y1="927.90" x2="573.40" y2="927.90" stroke="#EC2027" stroke-width="1.3" />
<circle cx="561.6" cy="865.2" r="4.3" fill="none" stroke="#EC2027" stroke-width="0.8"/>
<circle cx="561.6" cy="869.6" r="4.3" fill="none" stroke="#EC2027" stroke-width="0.8"/>
<circle cx="561.6" cy="892.2" r="4.3" fill="none" stroke="#EC2027" stroke-width="0.8"/>
<circle cx="561.6" cy="899.2" r="4.3" fill="none" stroke="#EC2027" stroke-width="0.8"/>
<circle cx="561.6" cy="901.8" r="4.3" fill="none" stroke="#EC2027" stroke-width="0.8"/>
<circle cx="561.6" cy="905.3" r="4.3" fill="none" stroke="#EC2027" stroke-width="0.8"/>
<circle cx="561.6" cy="907.9" r="4.3" fill="none" stroke="#EC2027" stroke-width="0.8"/>
<circle cx="561.6" cy="910.5" r="4.3" fill="none" stroke="#EC2027" stroke-width="0.8"/>
<circle cx="561.6" cy="915.7" r="4.3" fill="none" stroke="#EC2027" stroke-width="0.8"/>
<circle cx="561.6" cy="923.5" r="4.3" fill="none" stroke="#EC2027" stroke-width="0.8"/>
<circle cx="561.6" cy="931.4" r="4.3" fill="none" stroke="#EC2027" stroke-width="0.8"/>
<circle cx="561.6" cy="934.8" r="4.3" fill="none" stroke="#EC2027" stroke-width="0.8"/>
<circle cx="561.6" cy="936.6" r="4.3" fill="none" stroke="#EC2027" stroke-width="0.8"/>
<circle cx="561.6" cy="939.2" r="4.3" fill="none" stroke="#EC2027" stroke-width="0.8"/>
<circle cx="561.6" cy="942.7" r="4.3" fill="none" stroke="#EC2027" stroke-width="0.8"/>
<circle cx="561.6" cy="945.3" r="4.3" fill="none" stroke="#EC2027" stroke-width="0.8"/>
<circle cx="561.6" cy="954.9" r="4.3" fill="none" stroke="#EC2027" stroke-width="0.8"/>
<circle cx="561.6" cy="957.5" r="4.3" fill="none" stroke="#EC2027" stroke-width="0.8"/>
<circle cx="561.6" cy="960.1" r="4.3" fill="none" stroke="#EC2027" stroke-width="0.8"/>
<circle cx="561.6" cy="962.7" r="4.3" fill="none" stroke="#EC2027" stroke-width="0.8"/>
<line x1="599.00" y1="865.60" x2="599.00" y2="923.00" stroke="#EC2027" stroke-width="1.3" />
<line x1="599.00" y1="954.90" x2="599.00" y2="978.40" stroke="#EC2027" stroke-width="1.3" />
<line x1="587.20" y1="865.60" x2="610.30" y2="865.60" stroke="#EC2027" stroke-width="1.3" />
<line x1="587.20" y1="978.40" x2="610.30" y2="978.40" stroke="#EC2027" stroke-width="1.3" />
<rect x="587.2" y="923.0" width="23.09999999999991" height="31.899999999999977" fill="none" stroke="#EC2027" stroke-width="1.3"/>
<line x1="587.20" y1="943.90" x2="610.30" y2="943.90" stroke="#EC2027" stroke-width="1.3" />
<circle cx="599.0" cy="865.2" r="4.3" fill="none" stroke="#EC2027" stroke-width="0.8"/>
<circle cx="599.0" cy="881.8" r="4.3" fill="none" stroke="#EC2027" stroke-width="0.8"/>
<circle cx="599.0" cy="909.6" r="4.3" fill="none" stroke="#EC2027" stroke-width="0.8"/>
<circle cx="599.0" cy="910.5" r="4.3" fill="none" stroke="#EC2027" stroke-width="0.8"/>
<circle cx="599.0" cy="920" r="4.3" fill="none" stroke="#EC2027" stroke-width="0.8"/>
<circle cx="599.0" cy="927" r="4.3" fill="none" stroke="#EC2027" stroke-width="0.8"/>
<circle cx="599.0" cy="930.5" r="4.3" fill="none" stroke="#EC2027" stroke-width="0.8"/>
<circle cx="599.0" cy="940.1" r="4.3" fill="none" stroke="#EC2027" stroke-width="0.8"/>
<circle cx="599.0" cy="942.7" r="4.3" fill="none" stroke="#EC2027" stroke-width="0.8"/>
<circle cx="599.0" cy="945.3" r="4.3" fill="none" stroke="#EC2027" stroke-width="0.8"/>
<circle cx="599.0" cy="947.9" r="4.3" fill="none" stroke="#EC2027" stroke-width="0.8"/>
<circle cx="599.0" cy="950.5" r="4.3" fill="none" stroke="#EC2027" stroke-width="0.8"/>
<circle cx="599.0" cy="954" r="4.3" fill="none" stroke="#EC2027" stroke-width="0.8"/>
<circle cx="599.0" cy="964.4" r="4.3" fill="none" stroke="#EC2027" stroke-width="0.8"/>
<circle cx="599.0" cy="967" r="4.3" fill="none" stroke="#EC2027" stroke-width="0.8"/>
<circle cx="599.0" cy="971.4" r="4.3" fill="none" stroke="#EC2027" stroke-width="0.8"/>
<circle cx="599.0" cy="974.9" r="4.3" fill="none" stroke="#EC2027" stroke-width="0.8"/>
<circle cx="599.0" cy="978.4" r="4.3" fill="none" stroke="#EC2027" stroke-width="0.8"/>
</svg>
</body></html>
